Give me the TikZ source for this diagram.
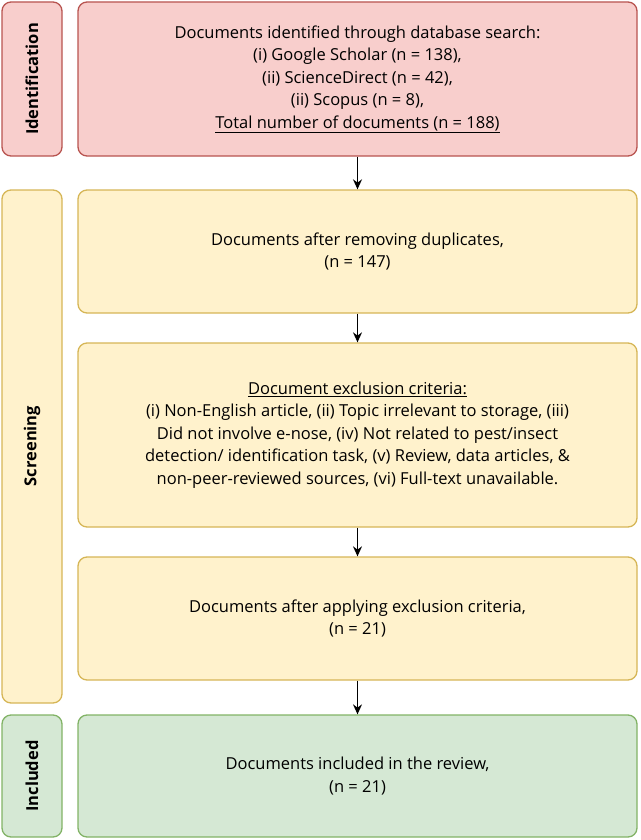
\documentclass[tikz,border=0pt]{standalone}
\usetikzlibrary{arrows.meta}
\usepackage{fontspec}
\setmainfont{Open Sans}
\begin{document}
\begin{tikzpicture}[x=1pt,y=-1pt,
  box/.style={draw,line width=1.3pt,rounded corners=9pt,align=center,inner sep=0pt,
    font=\fontsize{16.5}{22.5}\selectfont},
  red/.style={fill={rgb,255:red,248;green,206;blue,204},draw={rgb,255:red,184;green,84;blue,80}},
  yel/.style={fill={rgb,255:red,255;green,242;blue,204},draw={rgb,255:red,214;green,182;blue,86}},
  grn/.style={fill={rgb,255:red,213;green,232;blue,212},draw={rgb,255:red,130;green,179;blue,102}},
  side/.style={font=\fontsize{16.5}{18}\selectfont\bfseries,rotate=90},
  arr/.style={-{Stealth[length=10pt,width=9pt]},line width=1.3pt}]
\useasboundingbox (0,0) rectangle (640,840);
% side boxes
\draw[box,red] (2,2) rectangle (62,156);
\node[side] (sid) at (32,79) {Identification};
\draw[box,yel] (2,190) rectangle (62,703);
\node[side] (ssc) at (32,446) {Screening};
\draw[box,grn] (2,715) rectangle (62,837);
\node[side] (sin) at (32,776) {Included};
% main boxes
\node[box,red,minimum width=559pt,minimum height=154pt] (b1) at (357.5,79)
  {Documents identified through database search:\\(i) Google Scholar (n = 138),\\(ii) ScienceDirect (n = 42),\\(ii) Scopus (n = 8),\\\underline{Total number of documents (n = 188)}};
\node[box,yel,minimum width=559pt,minimum height=123pt] (b2) at (357.5,251.5)
  {Documents after removing duplicates,\\(n = 147)};
\node[box,yel,minimum width=559pt,minimum height=184pt] (b3) at (357.5,435)
  {\underline{Document exclusion criteria:}\\(i) Non-English article, (ii) Topic irrelevant to storage, (iii)\\Did not involve e-nose, (iv) Not related to pest/insect\\detection/ identification task, (v) Review, data articles, \&\\non-peer-reviewed sources, (vi) Full-text unavailable.};
\node[box,yel,minimum width=559pt,minimum height=123pt] (b4) at (357.5,618.5)
  {Documents after applying exclusion criteria,\\(n = 21)};
\node[box,grn,minimum width=559pt,minimum height=122pt] (b5) at (357.5,776)
  {Documents included in the review,\\(n = 21)};
\draw[arr] (b1) -- (b2);
\draw[arr] (b2) -- (b3);
\draw[arr] (b3) -- (b4);
\draw[arr] (b4) -- (b5);
\end{tikzpicture}
\end{document}
